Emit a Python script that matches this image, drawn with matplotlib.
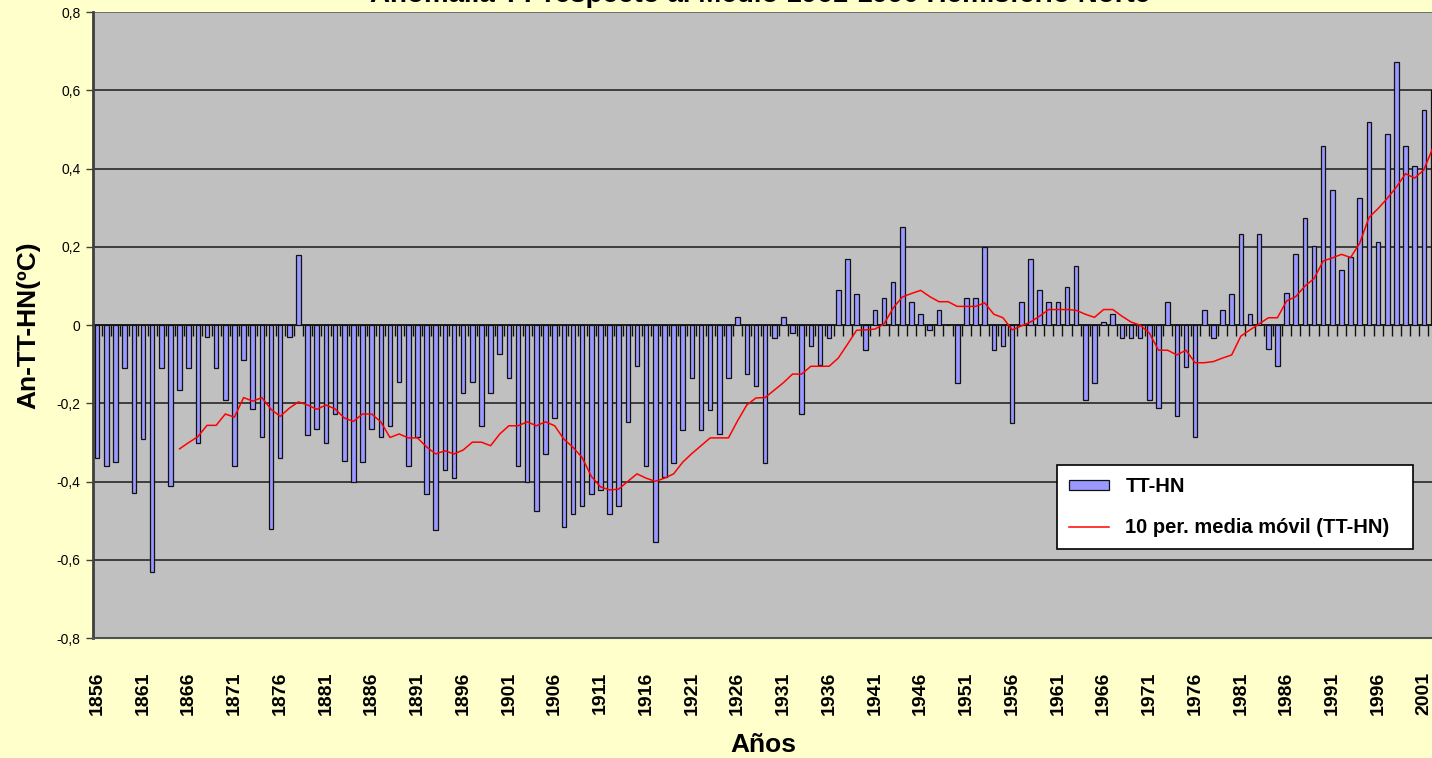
import numpy as np
import matplotlib
matplotlib.use("Agg")
import matplotlib.pyplot as plt

plt.rcParams['font.family'] = ['Liberation Sans', 'DejaVu Sans']

years = np.arange(1856, 2003)

# anomalia anual TT-HN (ºC)
tt_hn = [
    -0.34, -0.36, -0.35, -0.11, -0.43, -0.29, -0.63, -0.11, -0.41, -0.165,
    -0.11, -0.30, -0.03, -0.11, -0.19, -0.36, -0.09, -0.215, -0.285, -0.52,
    -0.34, -0.03, 0.18, -0.28, -0.265, -0.30, -0.227, -0.348, -0.40, -0.349,
    -0.266, -0.287, -0.258, -0.145, -0.361, -0.287, -0.431, -0.523, -0.37, -0.391,
    -0.174, -0.145, -0.258, -0.174, -0.073, -0.134, -0.361, -0.40, -0.474, -0.329,
    -0.237, -0.515, -0.483, -0.463, -0.432, -0.421, -0.483, -0.463, -0.247, -0.104,
    -0.361, -0.555, -0.389, -0.351, -0.267, -0.134, -0.267, -0.216, -0.278, -0.134,
    0.02, -0.124, -0.155, -0.351, -0.032, 0.02, -0.021, -0.228, -0.053, -0.103,
    -0.032, 0.09, 0.17, 0.08, -0.064, 0.04, 0.069, 0.11, 0.25, 0.06,
    0.028, -0.012, 0.04, 0.0, -0.149, 0.069, 0.069, 0.20, -0.064, -0.054,
    -0.251, 0.06, 0.17, 0.091, 0.06, 0.06, 0.098, 0.15, -0.19, -0.149,
    0.008, 0.028, -0.033, -0.033, -0.033, -0.19, -0.212, 0.06, -0.233, -0.106,
    -0.285, 0.04, -0.033, 0.04, 0.08, 0.234, 0.029, 0.234, -0.061, -0.104,
    0.082, 0.182, 0.274, 0.203, 0.458, 0.346, 0.142, 0.173, 0.325, 0.519,
    0.213, 0.488, 0.673, 0.458, 0.407, 0.55, 0.60,
]

# media movil de 10 periodos (empieza en 1865)
ma_years = np.arange(1865, 2003)
ma_vals = [
    -0.316, -0.30, -0.285, -0.256, -0.256, -0.227, -0.235, -0.185, -0.194, -0.185,
    -0.215, -0.233, -0.212, -0.196, -0.204, -0.215, -0.204, -0.214, -0.237, -0.246,
    -0.227, -0.227, -0.247, -0.287, -0.278, -0.288, -0.288, -0.311, -0.329, -0.321,
    -0.329, -0.319, -0.299, -0.299, -0.308, -0.278, -0.257, -0.257, -0.247, -0.257,
    -0.247, -0.257, -0.291, -0.312, -0.338, -0.386, -0.413, -0.421, -0.419, -0.399,
    -0.380, -0.391, -0.399, -0.391, -0.380, -0.35, -0.328, -0.308, -0.288, -0.288,
    -0.288, -0.244, -0.204, -0.186, -0.185, -0.166, -0.147, -0.125, -0.125, -0.105,
    -0.105, -0.105, -0.084, -0.049, -0.013, -0.012, -0.010, 0.003, 0.044, 0.072,
    0.081, 0.089, 0.073, 0.06, 0.06, 0.048, 0.048, 0.048, 0.057, 0.028,
    0.019, -0.012, -0.002, 0.008, 0.023, 0.04, 0.04, 0.04, 0.038, 0.028,
    0.02, 0.04, 0.04, 0.023, 0.008, 0.0, -0.02, -0.064, -0.064, -0.076,
    -0.064, -0.096, -0.096, -0.093, -0.084, -0.076, -0.028, -0.012, 0.003, 0.019,
    0.019, 0.062, 0.073, 0.10, 0.119, 0.164, 0.172, 0.181, 0.173, 0.21,
    0.275, 0.298, 0.324, 0.353, 0.387, 0.376, 0.397, 0.454,
]

yticks = [-0.8, -0.6, -0.4, -0.2, 0, 0.2, 0.4, 0.6, 0.8]
ytick_labels = ["-0,8", "-0,6", "-0,4", "-0,2", "0", "0,2", "0,4", "0,6", "0,8"]
xtick_years = years[::5]

fig = plt.figure(figsize=(14.32, 7.58), dpi=100, facecolor='#FFFFCC')
ax = fig.add_axes([0.065, 0.158, 0.936, 0.826])
ax.set_facecolor('#C0C0C0')

for y in yticks[1:-1]:
    ax.axhline(y, color='#1a1a1a', lw=1.1, zorder=1)

bars = ax.bar(years, tt_hn, width=0.5, color='#9999FF', edgecolor='#111111',
              linewidth=0.9, zorder=2)
line, = ax.plot(ma_years, ma_vals, color='#FF0000', lw=1.1, zorder=3)

ax.set_xlim(1855.55, 2002.05)
ax.set_ylim(-0.8, 0.8)

ax.set_yticks(yticks)
ax.set_yticklabels(ytick_labels, fontsize=10)
ax.tick_params(axis='y', length=5, width=1, color='#404040', pad=4)

ax.set_xticks(xtick_years)
ax.set_xticklabels([str(y) for y in xtick_years], rotation=90,
                   fontsize=14, fontweight='bold')
ax.tick_params(axis='x', length=0, pad=24)

for side in ['top', 'right']:
    ax.spines[side].set_visible(False)
ax.spines['left'].set_color('#404040')
ax.spines['left'].set_linewidth(2)
ax.spines['bottom'].set_color('#505050')
ax.spines['bottom'].set_linewidth(1.5)
ax.axhline(0.8, color='#606060', lw=1.2, zorder=1)

# eje de categorias en el cero, con marcas hacia abajo entre barras
sec = ax.secondary_xaxis(0.5)
sec.set_xticks(years + 0.5)
sec.set_xticklabels([])
sec.tick_params(axis='x', direction='in', length=8, width=1, color='#111111')
for s in sec.spines.values():
    s.set_color('#111111')
    s.set_linewidth(1.2)

# el titulo queda cortado por el borde superior, como en el original
fig.text(760 / 1432, 1 - 2 / 758,
         'Anomalía TT respecto al Medio 1961-1990 Hemisferio Norte',
         ha='center', va='baseline', fontsize=20, fontweight='bold')
fig.text(28 / 1432, 1 - 325 / 758, 'An-TT-HN(ºC)', rotation=90,
         ha='center', va='center', fontsize=19, fontweight='bold')
fig.text(763 / 1432, 1 - 745 / 758, 'Años', ha='center', va='center',
         fontsize=19, fontweight='bold')

leg = ax.legend([bars, line], ['TT-HN', '10 per. media móvil (TT-HN)'],
                loc='upper left', bbox_to_anchor=(0.738, 0.2765, 0.249, 0.11),
                bbox_transform=fig.transFigure, mode='expand', borderaxespad=0,
                prop={'size': 14.5, 'weight': 'bold'}, handlelength=2.0,
                handleheight=0.4, labelspacing=1.1, borderpad=0.6,
                fancybox=False, framealpha=1, edgecolor='#000000')
leg.get_frame().set_linewidth(1.2)
leg.set_zorder(5)

fig.savefig('out.png', dpi=100, facecolor=fig.get_facecolor())
